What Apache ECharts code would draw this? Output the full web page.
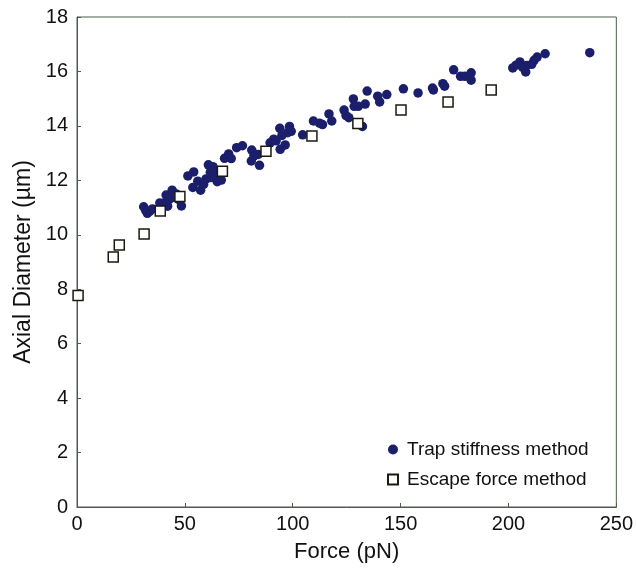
<!DOCTYPE html>
<html>

<head>
    <meta charset="utf-8">
    <title>Axial Diameter vs Force</title>
    <script src="https://cdn.jsdelivr.net/npm/echarts@6/dist/echarts.min.js"></script>
    <style>
        html, body {
            margin: 0;
            padding: 0;
            background: #fff;
        }

        #main {
            width: 636px;
            height: 573px;
        }
    </style>
</head>

<body>
    <div id="main"></div>
    <script>
        // 数据 (force pN, axial diameter um)
        var trapStiffness = [
            [30.9, 11.03], [31.8, 10.9], [32.6, 10.79], [33.7, 10.86], [35, 10.95],
            [38.4, 11.17], [40.9, 11.19], [41.3, 11.46], [42, 11.05], [42.8, 11.3],
            [44.1, 11.64], [45, 11.38], [46, 11.5], [47, 11.3], [48.4, 11.06],
            [51.4, 12.16], [54.1, 12.31], [53.7, 11.74], [56, 11.97], [57.3, 11.64],
            [58.7, 11.85], [59.8, 12.05], [60.9, 12.57], [61.8, 12.3], [62, 12.1],
            [63, 12.5], [63.6, 12.2], [65, 11.95], [65.8, 12.35], [66.9, 12.01],
            [68.4, 12.81], [70.3, 12.97], [71.5, 12.8], [74, 13.2], [76.7, 13.27],
            [80.8, 12.71], [81, 13.11], [82, 12.9], [84, 12.95], [84.6, 12.55],
            [89.5, 13.38], [91.2, 13.51], [92.3, 13.45], [94, 13.91], [94.2, 13.14],
            [95, 13.65], [96.5, 13.3], [97.7, 13.75], [98.5, 13.98], [99.3, 13.8],
            [104.6, 13.67], [109.6, 14.18], [112.4, 14.1], [113.8, 14.05], [116.8, 14.44],
            [118.1, 14.18], [123.8, 14.58], [124.7, 14.38], [126, 14.3], [128.1, 14.99],
            [128.5, 14.72], [130.4, 14.72], [132.3, 13.98], [133.6, 14.8], [134.5, 15.28],
            [139.4, 15.09], [140.3, 14.88], [143.6, 15.15], [151.3, 15.36], [158.1, 15.21],
            [164.8, 15.39], [165.2, 15.32], [169.6, 15.55], [170.4, 15.46], [174.6, 16.06],
            [177.8, 15.82], [179.8, 15.82], [182.7, 15.95], [182.7, 15.68], [202, 16.13],
            [203.5, 16.23], [205.3, 16.35], [206.6, 16.15], [208, 15.98], [208.5, 16.22],
            [210.8, 16.26], [211.9, 16.41], [213.3, 16.53], [217, 16.65], [237.7, 16.69]
        ];

        var escapeForce = [
            [0.5, 7.77], [16.8, 9.18], [19.6, 9.62], [31.1, 10.03], [38.6, 10.87],
            [47.7, 11.41], [67.4, 12.33], [87.6, 13.07], [108.9, 13.63], [130.2, 14.09],
            [150.2, 14.58], [172, 14.88], [192, 15.32]
        ];

        var xTicks = [0, 50, 100, 150, 200, 250];
        var yTicks = [0, 2, 4, 6, 8, 10, 12, 14, 16, 18];

        var font = 'Liberation Sans, Arial, sans-serif';
        var axisColor = '#4d5a4d';

        var chartDom = document.getElementById('main');
        var myChart = echarts.init(chartDom);
        var option;

        option = {
            animation: false,
            backgroundColor: '#fff',
            grid: {
                left: 77,
                right: 18,
                top: 17,
                bottom: 66,
                show: true,
                borderColor: axisColor,
                borderWidth: 1
            },
            legend: {
                orient: 'vertical',
                left: 382,
                top: 435,
                itemWidth: 10,
                itemHeight: 10,
                itemGap: 11,
                textStyle: {
                    fontFamily: font,
                    fontSize: 19,
                    color: '#111',
                    padding: [0, 0, 0, 4]
                },
                data: [
                    { name: 'Trap stiffness method', icon: 'circle' },
                    { name: 'Escape force method', icon: 'rect' }
                ]
            },
            xAxis: {
                type: 'value',
                min: xTicks[0],
                max: xTicks[xTicks.length - 1],
                interval: 50,
                name: 'Force (pN)',
                nameLocation: 'middle',
                nameGap: 34,
                nameTextStyle: { fontFamily: font, fontSize: 22, color: '#111' },
                splitLine: { show: false },
                axisLine: { lineStyle: { color: axisColor } },
                axisTick: { inside: true, length: 4, lineStyle: { color: axisColor } },
                axisLabel: { fontFamily: font, fontSize: 20, color: '#111', margin: 7 }
            },
            yAxis: {
                type: 'value',
                min: yTicks[0],
                max: yTicks[yTicks.length - 1],
                interval: 2,
                name: 'Axial Diameter (\u00b5m)',
                nameLocation: 'middle',
                nameGap: 40,
                nameRotate: 90,
                nameTextStyle: { fontFamily: font, fontSize: 23, color: '#111' },
                splitLine: { show: false },
                axisLine: { show: true, lineStyle: { color: axisColor } },
                axisTick: { show: true, inside: true, length: 4, lineStyle: { color: axisColor } },
                axisLabel: { fontFamily: font, fontSize: 20, color: '#111', margin: 9 }
            },
            series: [
                {
                    name: 'Trap stiffness method',
                    type: 'scatter',
                    symbol: 'circle',
                    symbolSize: 9.5,
                    itemStyle: { color: '#1b1f6b', opacity: 1 },
                    data: trapStiffness
                },
                {
                    name: 'Escape force method',
                    type: 'scatter',
                    symbol: 'rect',
                    symbolSize: 10,
                    z: 3,
                    itemStyle: { color: '#fff', borderColor: '#1a1a10', borderWidth: 1.5, opacity: 1 },
                    data: escapeForce
                }
            ]
        };

        option && myChart.setOption(option);
    </script>
</body>

</html>
